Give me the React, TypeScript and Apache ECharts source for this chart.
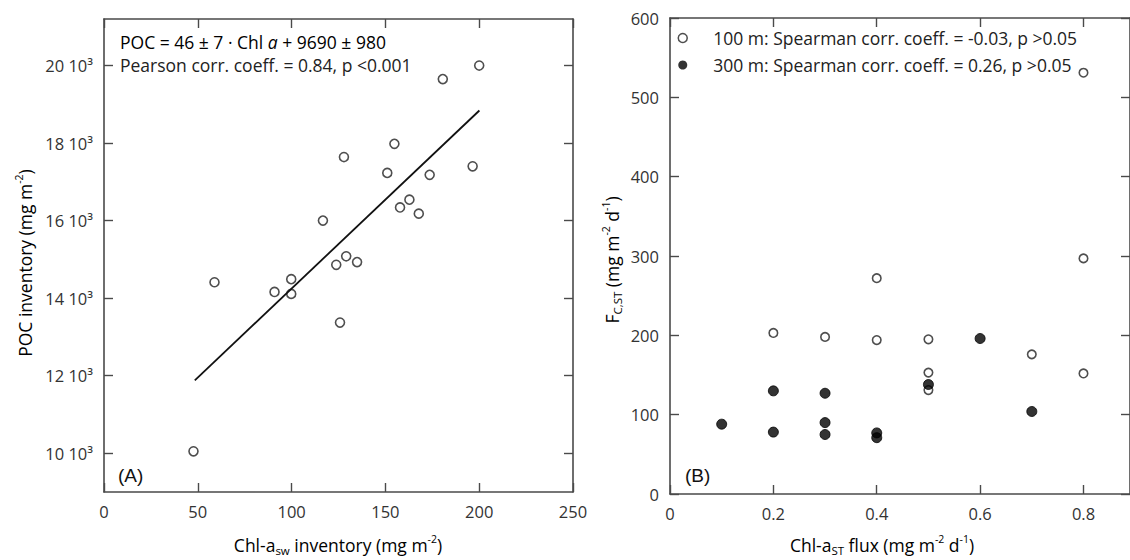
import React, { useEffect, useRef } from 'react';
import * as echarts from 'echarts';

// Panel A: Chl-a inventory vs POC inventory (mg m-2)
const chlInventory = [47.7, 58.9, 90.9, 99.8, 99.8, 116.7, 123.8, 125.8, 127.9, 129.1, 134.9, 151.0, 154.8, 157.8, 162.8, 167.8, 173.6, 180.6, 196.5, 200.0];
const pocInventory = [10050, 14410, 14160, 14490, 14110, 16000, 14860, 13370, 17640, 15080, 14930, 17230, 17980, 16340, 16540, 16180, 17180, 19650, 17400, 20000];

// Least-squares line drawn over the sampled range
const fitChl = [48.4, 200.1];
const fitPoc = [11880, 18840];

// Panel B: Chl-a flux vs carbon flux (mg m-2 d-1)
const flux100Chl = [0.2, 0.3, 0.4, 0.4, 0.5, 0.5, 0.5, 0.7, 0.8, 0.8, 0.8];
const flux100C = [203, 198, 194, 272, 195, 153, 131, 176, 152, 297, 531];
const flux300Chl = [0.1, 0.2, 0.2, 0.3, 0.3, 0.3, 0.4, 0.4, 0.5, 0.6, 0.7];
const flux300C = [88, 130, 78, 127, 90, 75, 77, 71, 138, 196, 104];

const ticksA_x = [0, 50, 100, 150, 200, 250];
const ticksA_y = [10000, 12000, 14000, 16000, 18000, 20000];
const ticksB_x = [0, 0.2, 0.4, 0.6, 0.8];
const ticksB_y = [0, 100, 200, 300, 400, 500, 600];

const name100 = '100 m: Spearman corr. coeff. = -0.03, p >0.05';
const name300 = '300 m: Spearman corr. coeff. = 0.26, p >0.05';

const FONT = '"Open Sans", "Noto Sans", sans-serif';
const AXIS = '#4a4a4a';
const INK = '#222';
const TEXT_SIZE = 17.5;
const TICK_SIZE = 16.5;

const richBase = (size: number) => ({
  t: { fontSize: size, fontFamily: FONT, color: INK },
  i: { fontSize: size, fontFamily: FONT, color: INK, fontStyle: 'italic' },
  sub: { fontSize: 11.5, fontFamily: FONT, color: INK, padding: [11, 0, 0, 0] },
  sup: { fontSize: 10.5, fontFamily: FONT, color: INK, padding: [0, 0, 13, 0] },
});

function boxAxes(gridIndex: number, min: number, max: number, ticks: number[], horizontal: boolean, labelFmt: (v: number) => string, margin: number) {
  const main: any = {
    type: 'value',
    gridIndex,
    min,
    max,
    position: horizontal ? 'bottom' : 'left',
    axisLine: { show: true, onZero: false, lineStyle: { color: AXIS, width: 1.6 } },
    axisTick: { show: true, inside: true, length: 9, customValues: ticks, lineStyle: { color: AXIS, width: 1.4 } },
    axisLabel: {
      show: true,
      customValues: ticks,
      formatter: labelFmt,
      margin,
      color: '#333',
      fontSize: TICK_SIZE,
      fontFamily: FONT,
    },
    splitLine: { show: false },
  };
  const mirror: any = {
    type: 'value',
    gridIndex,
    min,
    max,
    position: horizontal ? 'top' : 'right',
    axisLine: { show: true, onZero: false, lineStyle: { color: AXIS, width: 1.6 } },
    axisTick: { show: true, inside: true, length: 9, customValues: ticks, lineStyle: { color: AXIS, width: 1.4 } },
    axisLabel: { show: false },
    splitLine: { show: false },
  };
  return [main, mirror];
}

export default function App() {
  const ref = useRef<HTMLDivElement>(null);

  useEffect(() => {
    if (!ref.current) return;
    const chart = echarts.init(ref.current, undefined, { renderer: 'svg' });

    const [xA, xA2] = boxAxes(0, 0, 250, ticksA_x, true, (v) => String(v), 11);
    const [yA, yA2] = boxAxes(0, 9000, 21200, ticksA_y, false, (v) => `${v / 1000} 10³`, 11);
    const [xB, xB2] = boxAxes(1, 0, 0.89, ticksB_x, true, (v) => String(Math.round(v * 10) / 10), 11);
    const [yB, yB2] = boxAxes(1, 0, 600, ticksB_y, false, (v) => String(v), 11);

    const openStyle = { color: '#fff', borderColor: INK, borderWidth: 1.6 };
    const fillStyle = { color: '#000', borderColor: '#000', borderWidth: 1 };

    chart.setOption({
      animation: false,
      grid: [
        { left: 104, top: 19, right: 557, bottom: 68 },
        { left: 670, top: 18, right: -5, bottom: 66 },
      ],
      xAxis: [xA, xA2, xB, xB2],
      yAxis: [yA, yA2, yB, yB2],
      legend: {
        orient: 'vertical',
        left: 677.5,
        top: 27,
        padding: 0,
        itemGap: 5,
        itemWidth: 9,
        itemHeight: 9,
        icon: 'circle',
        selectedMode: false,
        textStyle: { fontSize: TEXT_SIZE, fontFamily: FONT, color: INK, lineHeight: 22, padding: [0, 0, 0, 21] },
        data: [
          { name: name100, itemStyle: { color: '#fff', borderColor: INK, borderWidth: 1.5 } },
          { name: name300, itemStyle: { color: '#000', borderColor: '#000', borderWidth: 0 } },
        ],
      },
      series: [
        {
          type: 'scatter',
          name: 'POC inventory',
          xAxisIndex: 0,
          yAxisIndex: 0,
          symbol: 'circle',
          symbolSize: 9,
          itemStyle: openStyle,
          emphasis: { disabled: true },
          data: chlInventory.map((x, i) => [x, pocInventory[i]]),
        },
        {
          type: 'line',
          name: 'fit',
          xAxisIndex: 0,
          yAxisIndex: 0,
          symbol: 'none',
          lineStyle: { color: '#111', width: 1.8 },
          emphasis: { disabled: true },
          data: fitChl.map((x, i) => [x, fitPoc[i]]),
        },
        {
          type: 'scatter',
          name: name100,
          xAxisIndex: 2,
          yAxisIndex: 2,
          symbol: 'circle',
          symbolSize: 8.5,
          itemStyle: openStyle,
          emphasis: { disabled: true },
          data: flux100Chl.map((x, i) => [x, flux100C[i]]),
        },
        {
          type: 'scatter',
          name: name300,
          xAxisIndex: 2,
          yAxisIndex: 2,
          symbol: 'circle',
          symbolSize: 10,
          itemStyle: fillStyle,
          emphasis: { disabled: true },
          data: flux300Chl.map((x, i) => [x, flux300C[i]]),
        },
      ],
      graphic: [
        {
          type: 'text',
          x: 120,
          y: 42,
          style: {
            text: '{t|POC = 46 ± 7 · Chl }{i|a}{t| + 9690 ± 980}',
            rich: richBase(TEXT_SIZE),
            verticalAlign: 'middle',
          },
        },
        {
          type: 'text',
          x: 120,
          y: 65,
          style: {
            text: 'Pearson corr. coeff. = 0.84, p <0.001',
            fontSize: TEXT_SIZE,
            fontFamily: FONT,
            fill: INK,
            verticalAlign: 'middle',
          },
        },
        {
          type: 'text',
          x: 118,
          y: 475,
          style: { text: '(A)', fontSize: 19, fontFamily: '"Liberation Sans", Arial, sans-serif', fill: '#111', verticalAlign: 'middle' },
        },
        {
          type: 'text',
          x: 685,
          y: 475,
          style: { text: '(B)', fontSize: 19, fontFamily: '"Liberation Sans", Arial, sans-serif', fill: '#111', verticalAlign: 'middle' },
        },
        {
          type: 'text',
          x: 338,
          y: 545,
          style: {
            text: '{t|Chl-a}{sub|sw}{t| inventory (mg m}{sup|-2}{t|)}',
            rich: richBase(TEXT_SIZE),
            align: 'center',
            verticalAlign: 'middle',
          },
        },
        {
          type: 'text',
          x: 25,
          y: 263,
          rotation: Math.PI / 2,
          style: {
            text: '{t|POC inventory (mg m}{sup|-2}{t|)}',
            rich: richBase(TEXT_SIZE),
            align: 'center',
            verticalAlign: 'middle',
          },
        },
        {
          type: 'text',
          x: 882,
          y: 545,
          style: {
            text: '{t|Chl-a}{sub|ST}{t| flux (mg m}{sup|-2}{t| d}{sup|-1}{t|)}',
            rich: richBase(TEXT_SIZE),
            align: 'center',
            verticalAlign: 'middle',
          },
        },
        {
          type: 'text',
          x: 612,
          y: 260,
          rotation: Math.PI / 2,
          style: {
            text: '{t|F}{sub|C,ST}{t| (mg m}{sup|-2}{t| d}{sup|-1}{t|)}',
            rich: richBase(TEXT_SIZE),
            align: 'center',
            verticalAlign: 'middle',
          },
        },
      ],
    });

    return () => chart.dispose();
  }, []);

  return (
    <div
      ref={ref}
      style={{ position: 'fixed', left: 0, top: 0, width: 1130, height: 560, background: '#fff' }}
    />
  );
}
